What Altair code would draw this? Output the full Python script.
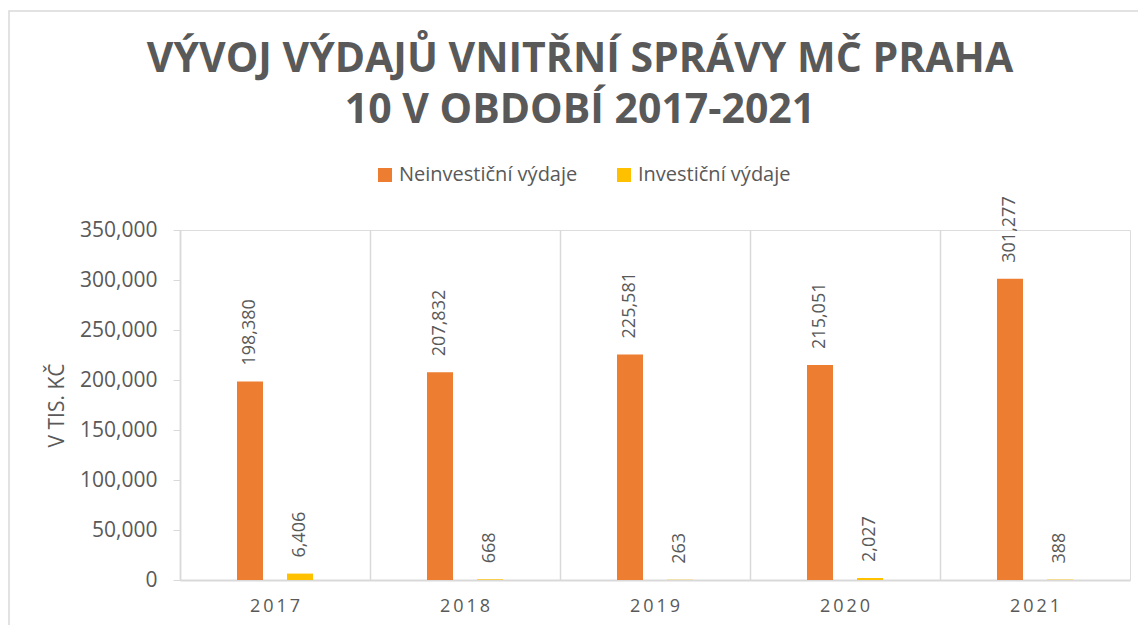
import altair as alt
import pandas as pd

years = ["2017", "2018", "2019", "2020", "2021"]
neinvesticni = [198380, 207832, 225581, 215051, 301277]
investicni = [6406, 668, 263, 2027, 388]
series = ["Neinvestiční výdaje", "Investiční výdaje"]
colors = ["#ED7D31", "#FFC000"]
y_ticks = [0, 50000, 100000, 150000, 200000, 250000, 300000, 350000]

rows = []
for i, yr in enumerate(years):
    rows.append({"rok": yr, "serie": series[0], "hodnota": neinvesticni[i]})
    rows.append({"rok": yr, "serie": series[1], "hodnota": investicni[i]})
df = pd.DataFrame(rows)

TXT = "#595959"
LINE = "#d9d9d9"
FONT = "Open Sans"

x_enc = alt.X(
    "rok:N",
    sort=years,
    scale=alt.Scale(paddingInner=0, paddingOuter=0),
    axis=alt.Axis(
        title=None, labelAngle=0, ticks=False,
        grid=True, gridColor=LINE, gridWidth=1.5, bandPosition=0,
        labelOffset=0, labelAlign="center",
        domainColor=LINE, domainWidth=2,
        labelFontSize=18, labelColor=TXT, labelFont=FONT, labelPadding=17,
        labelExpr="join(split(datum.label, ''), '\u2009')",
    ),
)
xoff = alt.XOffset("serie:N", sort=series,
                   scale=alt.Scale(range=[45, 145], paddingInner=0.48, paddingOuter=0.24))
y_enc = alt.Y(
    "hodnota:Q",
    scale=alt.Scale(domain=[0, 350000], nice=False),
    axis=alt.Axis(
        values=y_ticks, format=",.0f", grid=False,
        domainColor=LINE, domainWidth=1.5, tickColor=LINE, tickSize=7,
        labelFontSize=21, labelColor=TXT, labelFont=FONT, labelPadding=16,
        title="V TIS. KČ", titleFontSize=21, titleFontWeight="normal",
        titleColor=TXT, titleFont=FONT, titleAngle=270,
        titleX=-123, titleY=175, titleAlign="center", titleBaseline="middle",
    ),
)

bars = alt.Chart(df).mark_bar().encode(
    x=x_enc,
    xOffset=xoff,
    y=y_enc,
    color=alt.Color(
        "serie:N", sort=series,
        scale=alt.Scale(domain=series, range=colors),
        legend=alt.Legend(
            title=None, orient="none", direction="horizontal",
            legendX=195, legendY=-65,
            symbolType="square", symbolSize=196, symbolStrokeWidth=0,
            labelFontSize=20, labelColor=TXT, labelFont=FONT, labelLimit=400,
            columnPadding=36, labelOffset=4,
        ),
    ),
)

labels = alt.Chart(df).mark_text(
    angle=270, align="left", baseline="middle", dx=16,
    fontSize=18, color=TXT, font=FONT,
).encode(
    x=alt.X("rok:N", sort=years),
    xOffset=alt.XOffset("serie:N", sort=series),
    y="hodnota:Q",
    text=alt.Text("hodnota:Q", format=","),
)

border = alt.Chart(pd.DataFrame({"a": [0]})).mark_rect(
    fill=None, stroke=LINE, strokeWidth=1.5
).encode(
    x=alt.value(-171), x2=alt.value(1000),
    y=alt.value(-219), y2=alt.value(430),
)

chart = alt.layer(border, bars, labels).properties(
    width=950,
    height=350,
    padding={"left": 172, "top": 222, "right": 8, "bottom": 45},
    autosize=alt.AutoSizeParams(type="none"),
    title=alt.TitleParams(
        text=["VÝVOJ VÝDAJŮ VNITŘNÍ SPRÁVY MČ PRAHA", "10 V OBDOBÍ 2017-2021"],
        fontSize=41, font=FONT, fontWeight="bold", color=TXT,
        anchor="middle", dx=-75, dy=122, lineHeight=51, offset=0,
    ),
).configure_view(stroke=None).configure(background="white")

chart.save("out.html", embed_options={"renderer": "svg", "actions": False})
